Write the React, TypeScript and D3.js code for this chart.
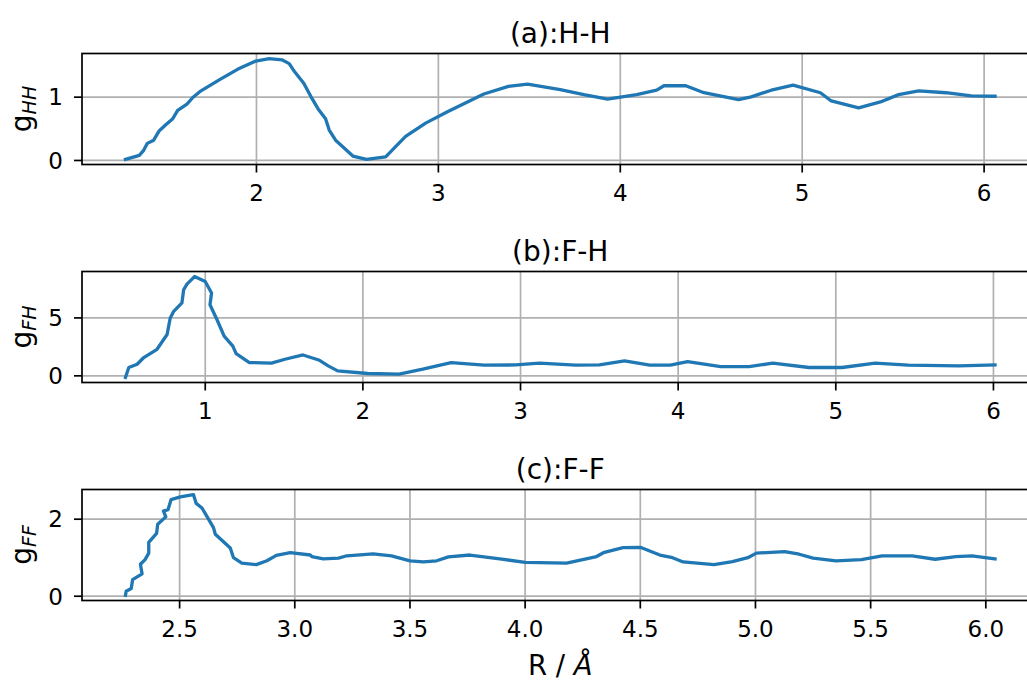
import React from "react";
import * as d3 from "d3";

// ---------- data ----------
const hhR = [1.28, 1.356, 1.38, 1.40, 1.435, 1.466, 1.50, 1.54, 1.567, 1.618, 1.65, 1.695, 1.80, 1.896, 1.996, 2.07, 2.14, 2.18, 2.21, 2.26, 2.30, 2.34, 2.38, 2.40, 2.435, 2.53, 2.605, 2.71, 2.82, 2.93, 3.05, 3.25, 3.385, 3.49, 3.67, 3.80, 3.93, 4.09, 4.20, 4.24, 4.36, 4.46, 4.65, 4.72, 4.83, 4.95, 5.10, 5.16, 5.31, 5.43, 5.53, 5.64, 5.79, 5.93, 6.06];
const hhG = [0.016, 0.08, 0.16, 0.27, 0.32, 0.47, 0.56, 0.66, 0.79, 0.89, 0.995, 1.10, 1.28, 1.44, 1.57, 1.61, 1.59, 1.53, 1.40, 1.22, 1.005, 0.81, 0.66, 0.48, 0.32, 0.07, 0.016, 0.057, 0.38, 0.59, 0.77, 1.05, 1.17, 1.205, 1.12, 1.04, 0.97, 1.04, 1.11, 1.18, 1.18, 1.07, 0.96, 1.005, 1.11, 1.19, 1.07, 0.94, 0.83, 0.925, 1.04, 1.10, 1.07, 1.02, 1.015];

const fhR = [0.494, 0.515, 0.568, 0.61, 0.694, 0.758, 0.778, 0.80, 0.852, 0.863, 0.884, 0.932, 1.00, 1.04, 1.03, 1.074, 1.12, 1.175, 1.196, 1.28, 1.42, 1.506, 1.62, 1.72, 1.78, 1.84, 2.03, 2.23, 2.38, 2.56, 2.77, 2.97, 3.12, 3.35, 3.50, 3.66, 3.82, 3.95, 4.06, 4.27, 4.45, 4.60, 4.83, 5.04, 5.25, 5.46, 5.78, 6.01];
const fhG = [-0.14, 0.72, 1.0, 1.58, 2.29, 3.57, 5.0, 5.57, 6.29, 7.43, 7.92, 8.57, 8.14, 7.15, 6.14, 4.86, 3.43, 2.57, 1.92, 1.15, 1.09, 1.43, 1.80, 1.37, 0.86, 0.43, 0.2, 0.15, 0.57, 1.14, 0.92, 0.94, 1.09, 0.92, 0.94, 1.29, 0.92, 0.92, 1.23, 0.8, 0.8, 1.09, 0.72, 0.72, 1.09, 0.92, 0.86, 0.94];

const ffR = [2.265, 2.268, 2.29, 2.296, 2.337, 2.33, 2.35, 2.366, 2.366, 2.40, 2.405, 2.44, 2.43, 2.45, 2.463, 2.503, 2.56, 2.572, 2.597, 2.616, 2.647, 2.655, 2.72, 2.734, 2.77, 2.833, 2.879, 2.92, 2.98, 3.067, 3.074, 3.124, 3.19, 3.226, 3.34, 3.42, 3.50, 3.558, 3.616, 3.667, 3.76, 3.89, 4.0, 4.18, 4.31, 4.34, 4.425, 4.50, 4.585, 4.64, 4.686, 4.82, 4.90, 4.967, 5.004, 5.127, 5.19, 5.25, 5.35, 5.46, 5.55, 5.68, 5.78, 5.87, 5.94, 6.04];
const ffG = [0.02, 0.13, 0.2, 0.43, 0.58, 0.83, 0.95, 1.12, 1.40, 1.63, 1.87, 2.06, 2.21, 2.25, 2.51, 2.58, 2.64, 2.41, 2.29, 2.1, 1.78, 1.61, 1.25, 1.0, 0.86, 0.82, 0.92, 1.06, 1.13, 1.07, 1.03, 0.97, 0.99, 1.05, 1.10, 1.05, 0.92, 0.89, 0.92, 1.02, 1.07, 0.97, 0.88, 0.86, 1.03, 1.13, 1.26, 1.27, 1.07, 1.0, 0.89, 0.82, 0.9, 1.0, 1.12, 1.16, 1.09, 0.99, 0.92, 0.95, 1.05, 1.05, 0.96, 1.03, 1.05, 0.97];

const hhXTicks = [2, 3, 4, 5, 6];
const fhXTicks = [1, 2, 3, 4, 5, 6];
const ffXTicks = [2.5, 3.0, 3.5, 4.0, 4.5, 5.0, 5.5, 6.0];
const hhYTicks = [0, 1];
const fhYTicks = [0, 5];
const ffYTicks = [0, 2];

const titles = ["(a):H-H", "(b):F-H", "(c):F-F"];
const ySubs = ["HH", "FH", "FF"];
const xLabelMain = "R / ";
const xLabelUnit = "Å";

// ---------- layout ----------
const W = 1027;
const H = 681;
const LEFT = 82;
const RIGHT = 1038.5;
const TOPS = [53.5, 271.5, 489.5];
const PH = 111;
const FONT = "DejaVu Sans, sans-serif";
const BLUE = "#1f77b4";
const GRID = "#b0b0b0";

function padded(vals: number[]): [number, number] {
  const [a, b] = d3.extent(vals) as [number, number];
  const m = (b - a) * 0.05;
  return [a - m, b + m];
}

type PanelProps = {
  xs: number[];
  ys: number[];
  xTicks: number[];
  yTicks: number[];
  xFmt: (v: number) => string;
  top: number;
  title: string;
  sub: string;
};

function Panel({ xs, ys, xTicks, yTicks, xFmt, top, title, sub }: PanelProps) {
  const bottom = top + PH;
  const x = d3.scaleLinear().domain(padded(xs)).range([LEFT, RIGHT]);
  const y = d3.scaleLinear().domain(padded(ys)).range([bottom, top]);
  const pts: [number, number][] = xs.map((v, i) => [v, ys[i]]);
  const line = d3
    .line<[number, number]>()
    .x((d) => x(d[0]))
    .y((d) => y(d[1]));
  const cy = (top + bottom) / 2;
  return (
    <g>
      {xTicks.map((t) => (
        <line key={"gx" + t} x1={x(t)} x2={x(t)} y1={top} y2={bottom} stroke={GRID} strokeWidth={1.7} />
      ))}
      {yTicks.map((t) => (
        <line key={"gy" + t} x1={LEFT} x2={RIGHT} y1={y(t)} y2={y(t)} stroke={GRID} strokeWidth={1.7} />
      ))}
      <path d={line(pts) || ""} fill="none" stroke={BLUE} strokeWidth={3.3} strokeLinejoin="round" strokeLinecap="square" />
      <rect x={LEFT} y={top} width={RIGHT - LEFT} height={PH} fill="none" stroke="#000" strokeWidth={1.7} />
      {xTicks.map((t) => (
        <g key={"tx" + t}>
          <line x1={x(t)} x2={x(t)} y1={bottom} y2={bottom + 8} stroke="#000" strokeWidth={1.7} />
          <text x={x(t)} y={bottom + 36.5} textAnchor="middle" fontSize={23} fontFamily={FONT} fill="#000">
            {xFmt(t)}
          </text>
        </g>
      ))}
      {yTicks.map((t) => (
        <g key={"ty" + t}>
          <line x1={LEFT - 8} x2={LEFT} y1={y(t)} y2={y(t)} stroke="#000" strokeWidth={1.7} />
          <text x={63} y={y(t) + 8.3} textAnchor="end" fontSize={23} fontFamily={FONT} fill="#000">
            {String(t)}
          </text>
        </g>
      ))}
      <text x={(LEFT + RIGHT) / 2} y={top - 10.2} textAnchor="middle" fontSize={28} fontFamily={FONT} fill="#000">
        {title}
      </text>
      <text
        transform={`translate(31,${cy}) rotate(-90)`}
        textAnchor="middle"
        fontSize={28}
        fontFamily={FONT}
        fill="#000"
      >
        g
        <tspan fontSize={19} fontStyle="italic" dy={5}>
          {sub}
        </tspan>
      </text>
    </g>
  );
}

export default function App() {
  const fmtInt = (v: number) => d3.format("d")(v);
  const fmt1 = (v: number) => d3.format(".1f")(v);
  return (
    <svg
      width={W}
      height={H}
      viewBox={`0 0 ${W} ${H}`}
      style={{ position: "absolute", left: 0, top: 0, background: "#fff" }}
    >
      <rect x={0} y={0} width={W} height={H} fill="#fff" />
      <Panel xs={hhR} ys={hhG} xTicks={hhXTicks} yTicks={hhYTicks} xFmt={fmtInt} top={TOPS[0]} title={titles[0]} sub={ySubs[0]} />
      <Panel xs={fhR} ys={fhG} xTicks={fhXTicks} yTicks={fhYTicks} xFmt={fmtInt} top={TOPS[1]} title={titles[1]} sub={ySubs[1]} />
      <Panel xs={ffR} ys={ffG} xTicks={ffXTicks} yTicks={ffYTicks} xFmt={fmt1} top={TOPS[2]} title={titles[2]} sub={ySubs[2]} />
      <text x={(LEFT + RIGHT) / 2} y={674.5} textAnchor="middle" fontSize={27.5} fontFamily={FONT} fill="#000">
        {xLabelMain}
        <tspan fontStyle="italic">{xLabelUnit}</tspan>
      </text>
    </svg>
  );
}
